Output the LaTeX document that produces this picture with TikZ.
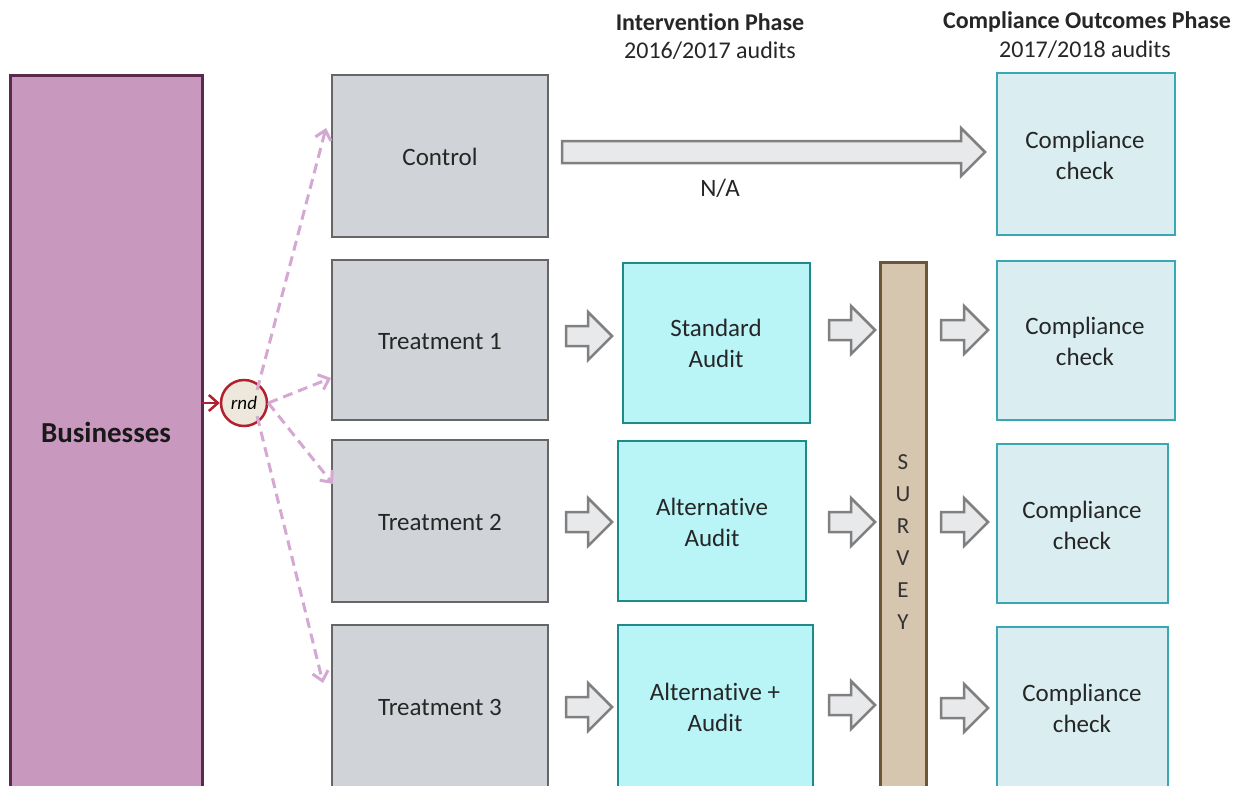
\documentclass[tikz,border=0pt]{standalone}
\usepackage{fontspec}
\setmainfont{Carlito}[Ligatures={NoCommon,NoRare}]
\usetikzlibrary{arrows.meta}
\definecolor{busfill}{HTML}{C998BF}
\definecolor{busdraw}{HTML}{5A2A4E}
\definecolor{grayfill}{HTML}{D0D4D8}
\definecolor{graydraw}{HTML}{666666}
\definecolor{cyanfill}{HTML}{B9F4F6}
\definecolor{cyandraw}{HTML}{1E8A8C}
\definecolor{compfill}{HTML}{DAEEF1}
\definecolor{compdraw}{HTML}{3AA8B2}
\definecolor{survfill}{HTML}{D6C5AF}
\definecolor{survdraw}{HTML}{6B5638}
\definecolor{arrfill}{HTML}{E8E9EB}
\definecolor{arrdraw}{HTML}{808080}
\definecolor{dashcol}{HTML}{D5A8D3}
\definecolor{rndred}{HTML}{B0202E}
\definecolor{rndfill}{HTML}{EEE8DC}
\tikzset{
  txt/.style={font=\fontsize{25}{31}\selectfont, align=center, text=black!85},
  graybox/.style={draw=graydraw, fill=grayfill, line width=2.5pt},
  cyanbox/.style={draw=cyandraw, fill=cyanfill, line width=2.5pt},
  compbox/.style={draw=compdraw, fill=compfill, line width=2.5pt},
  barr/.style={draw=arrdraw, fill=arrfill, line width=2.5pt, line join=miter},
  rndarrow/.style={dashcol, line width=3pt, dash pattern=on 10pt off 6pt, -{Straight Barb[length=9pt,width=16pt,line width=3pt]}},
}
\newcommand\blockarrow[5]{% x1, x2, y, half shaft, half head
  \draw[barr] (#1,#3-#4) -- (#2-24,#3-#4) -- (#2-24,#3-#5) -- (#2,#3) -- (#2-24,#3+#5) -- (#2-24,#3+#4) -- (#1,#3+#4) -- cycle;}
\begin{document}
\begin{tikzpicture}[x=1pt,y=-1pt]
\useasboundingbox (0,0) rectangle (1249,785);
\clip (0,0) rectangle (1249,785);
\fill[white] (0,0) rectangle (1249,785);
% headers
\node[txt, font=\fontsize{24}{30}\selectfont\bfseries] (h1) at (710,22) {Intervention Phase};
\node[txt, font=\fontsize{24}{30}\selectfont] (h1b) at (710,51) {2016/2017 audits};
\node[txt, font=\fontsize{24}{30}\selectfont\bfseries] (h2) at (1087,22) {Compliance Outcomes Phase};
\node[txt, font=\fontsize{24}{30}\selectfont] (h2b) at (1085,50) {2017/2018 audits};
% businesses
\draw[draw=busdraw, fill=busfill, line width=3pt] (10,75) rectangle (202,800);
\node[txt, font=\fontsize{29}{35}\selectfont\bfseries, text=black!90] (bus) at (106,432) {Businesses};
\coordinate (busE) at (202,403);
% rnd
\node[circle, draw=rndred, fill=rndfill, line width=2.5pt, minimum size=46pt, inner sep=0pt, font=\fontsize{19}{20}\selectfont\itshape] (rnd) at (244,403) {rnd};
\draw[rndred, line width=2.5pt, -{Straight Barb[length=9pt,width=16pt,line width=2.5pt]}] (busE) -- (rnd);
% left boxes
\draw[graybox] (332,75) rectangle (548,237);
\node[txt] (ctrl) at (440,157) {Control};
\draw[graybox] (332,260) rectangle (548,420);
\node[txt] (t1) at (440,342) {Treatment 1};
\draw[graybox] (332,440) rectangle (548,602);
\node[txt] (t2) at (440,522) {Treatment 2};
\draw[graybox] (332,625) rectangle (548,800);
\node[txt] (t3) at (440,707) {Treatment 3};
% dashed arrows
\coordinate (d0) at (326,128);
\coordinate (d1) at (331,378);
\coordinate (d2) at (333,484);
\coordinate (d3) at (323,683);
\draw[rndarrow] (rnd.north east) ++(-4,4) -- (d0);
\draw[rndarrow] (rnd.east) -- (d1);
\draw[rndarrow] (rnd.east) -- (d2);
\draw[rndarrow] (rnd.south east) ++(-4,-4) -- (d3);
% audits
\draw[cyanbox] (623,263) rectangle (810,423);
\node[txt] (sa) at (716,343) {Standard\\Audit};
\draw[cyanbox] (618,441) rectangle (806,601);
\node[txt] (aa) at (712,522) {Alternative\\Audit};
\draw[cyanbox] (618,625) rectangle (813,800);
\node[txt] (apa) at (715,707) {Alternative +\\Audit};
% survey
\draw[draw=survdraw, fill=survfill, line width=3pt] (880,262) rectangle (926,800);
\node[font=\fontsize{23}{32}\selectfont, align=center, text=black!80] (surv) at (903,542) {S\\U\\R\\V\\E\\Y};
% compliance
\draw[compbox] (997,73) rectangle (1175,235);
\node[txt] (c0) at (1085,155) {Compliance\\check};
\draw[compbox] (997,261) rectangle (1175,420);
\node[txt] (c1) at (1085,341) {Compliance\\check};
\draw[compbox] (997,444) rectangle (1168,603);
\node[txt] (c2) at (1082,525) {Compliance\\check};
\draw[compbox] (997,627) rectangle (1168,800);
\node[txt] (c3) at (1082,708) {Compliance\\check};
% big arrow
\blockarrow{562}{985}{152}{11}{24}
\node[txt] (na) at (720,188) {N/A};
% small arrows
\blockarrow{566}{612}{336}{10}{24}
\blockarrow{566}{612}{522}{10}{24}
\blockarrow{566}{612}{707}{10}{24}
\blockarrow{829}{875}{330}{10}{24}
\blockarrow{829}{875}{522}{10}{24}
\blockarrow{829}{875}{705}{10}{24}
\blockarrow{941}{988}{330}{10}{24}
\blockarrow{941}{988}{522}{10}{24}
\blockarrow{941}{988}{708}{10}{24}
\end{tikzpicture}
\end{document}
